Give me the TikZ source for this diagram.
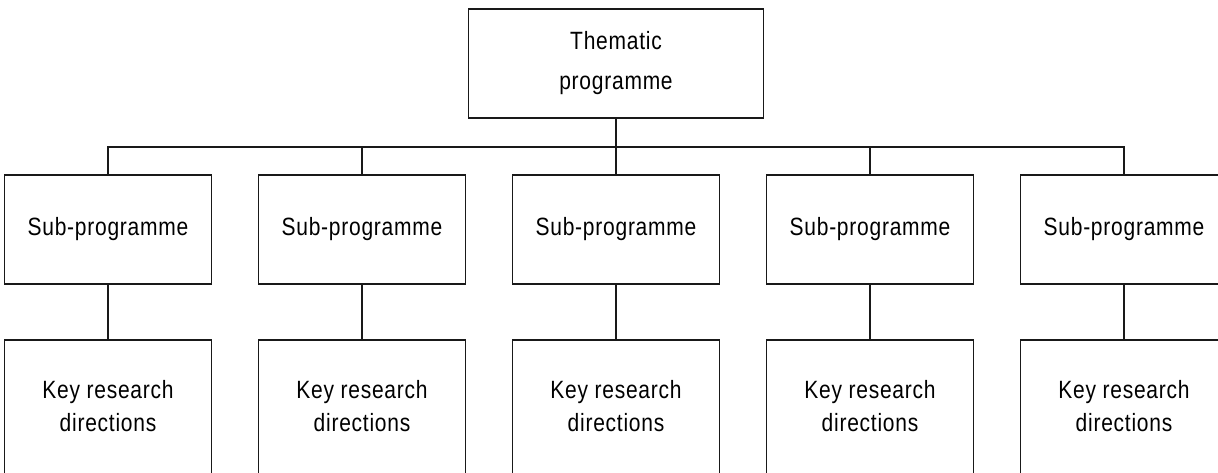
\documentclass[tikz,border=0pt]{standalone}
\usepackage{fontspec}
\setmainfont{Liberation Sans}[FakeStretch=0.84,LetterSpace=3]
\begin{document}
\begin{tikzpicture}[x=1pt,y=-1pt,line width=1.6pt,
  box/.style={draw=black!90, inner sep=0pt, align=center, minimum width=207pt},
  topbox/.style={box, minimum width=295pt, minimum height=109pt, font=\fontsize{25pt}{40pt}\selectfont},
  subbox/.style={box, minimum height=109pt, font=\fontsize{25pt}{33.5pt}\selectfont},
  keybox/.style={box, minimum height=160pt, anchor=north},
  keytext/.style={inner sep=0pt, anchor=north, align=center, font=\fontsize{25pt}{33.5pt}\selectfont},
  link/.style={draw=black!90}]
\useasboundingbox (0,0) rectangle (1218,473);
\clip (0,0) rectangle (1218,473);
\node[topbox] (t) at (616,63.5) {Thematic\\programme};
\coordinate (bar) at (616,147);
\foreach \i/\c in {1/108,2/362,3/616,4/870,5/1124}{
  \node[subbox] (s\i) at (\c,229.5) {Sub-programme};
  \node[keybox] (k\i) at (\c,339) {};
  \node[keytext] (kt\i) at (\c,379.5) {Key research\\directions};
  \draw[link] (t.south) -- (t.south |- bar) -| (s\i.north);
  \draw[link] (s\i.south) -- (k\i.north);
}
\end{tikzpicture}
\end{document}
